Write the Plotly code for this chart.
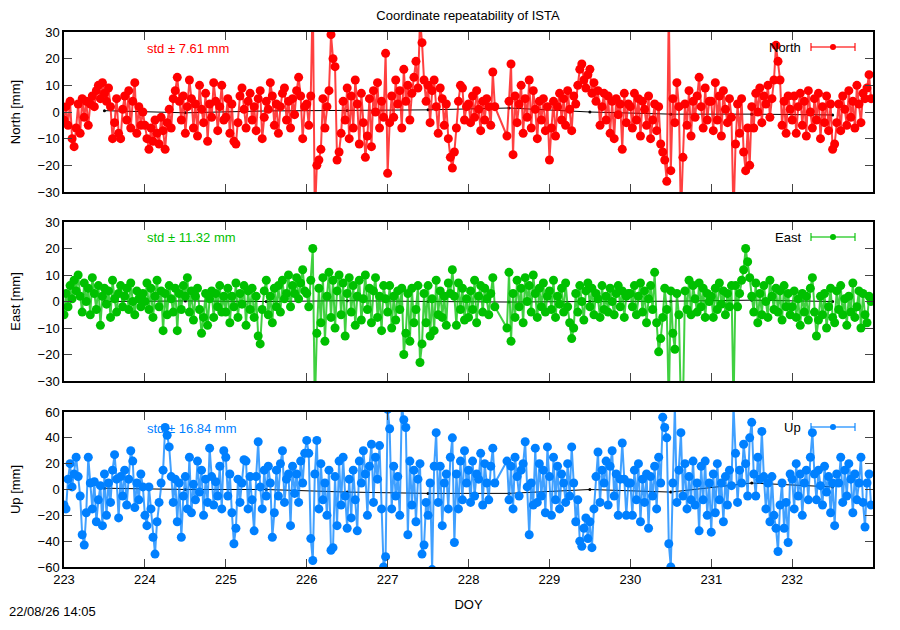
import numpy as np
import plotly.graph_objects as go
from plotly.subplots import make_subplots

# Coordinate repeatability of ISTA, DOY 223-232 (valeurs en mm)
titre = "Coordinate repeatability of ISTA"
horodatage = "22/08/26 14:05"

premier_jour = 223
par_jour = 40  # epoques par jour

north = [
    -3, 2, -5, 4, -10, -13, -6, 3, -8, 5, -2, 4, -5, 3, 6, 2, 8, 10, 5, 11, 7, 4, 9, 2, -10, -4, 5, -8, -10, 1, 6, -3, 8, -6, 4, 11, -8, 2, -5, 0,  # 223
    -5, -10, -14, -6, -11, -3, -8, -12, -2, -7, -14, -4, 1, -6, 5, 8, 13, 4, -3, 6, -8, 2, 12, 5, -6, 3, -9, 10, 1, -4, 7, -11, 3, -2, 11, 4, -7, 2, 10, -3,  # 224
    -2, 5, -8, 3, -11, -12, -4, 6, 9, 1, -6, 4, 7, -3, 2, -7, 5, 8, -10, -2, 4, 1, 11, 6, -5, 3, -8, 2, 7, 9, -3, 4, -6, 5, -1, 8, 13, 6, -10, 2,  # 225
    3, -5, 6, 45, -40, -20, -18, -14, 5, -6, 2, 8, 29, 20, 17, -18, -15, -8, 4, -3, 9, -10, 6, -6, 12, 3, -12, 7, -4, -17, -9, 5, -13, 8, 0, 11, -6, 4, -2, 22,  # 226
    -23, -4, 6, -2, 12, 3, 8, -6, 16, 4, 10, -3, 7, 13, 19, 9, 35, 26, 12, 4, 10, -4, 8, 12, 2, -8, 9, 5, -5, 3, -10, -17, -21, -15, -6, 4, 10, 9, -3, 2,  # 227
    3, -4, 6, -2, 8, 1, -7, 4, -3, 5, 2, -5, 15, 2, None, None, None, None, None, -9, 4, 18, -16, 6, -4, 3, 10, -8, 5, -2, 12, -6, 8, 1, -10, 4, -3, 5, -7, 2,  # 228
    -18, -6, 4, -9, 2, 7, -3, 5, -5, 8, 1, -7, 6, 3, 10, 16, 18, 12, 9, 14, 16, 7, 11, 4, 8, -5, 2, 7, -3, 6, -8, 4, -10, 5, -1, 3, -14, 7, -4, 3,  # 229
    2, -6, 7, -3, 5, -9, 4, 1, -5, 6, -10, -3, 3, -7, 2, -12, -15, -18, -26, 40, -22, 5, -4, 11, 2, -40, -17, 3, -5, 8, -9, 4, -2, 6, 13, 2, -6, 9, -3, 4,  # 230
    4, -7, 11, -3, 6, -9, 8, 1, -4, 5, -2, -40, -12, 3, -8, 5, -15, -22, -6, -20, 2, -6, 7, 0, 9, -4, 6, 3, 10, -2, 5, 12, 25, 19, 12, -5, 4, -8, 6, 1,  # 231
    -3, 6, -8, 2, 7, -5, 4, -9, 8, 0, -6, 5, -3, 7, -10, 2, -4, 6, -7, 3, -14, -12, -4, 3, -7, 6, 1, -5, 8, -2, 4, -6, 10, 3, -4, 7, 5, 9, 14, 5,  # 232
]

east = [
    -5, 3, -2, 6, 1, 8, 4, 10, 2, -4, 7, 0, 5, -5, 9, 3, -3, 6, -9, 2, 5, -1, 4, -6, 8, 1, -4, 3, 6, -2, 2, 5, -3, 7, 0, -5, 4, 1, -2, 3,  # 223
    0, 7, -3, 5, -6, 2, 8, -2, 4, -11, 3, -5, 6, 1, -4, 5, -11, 3, -3, 6, 2, 9, -4, 4, -7, 2, 5, -3, -12, -6, 3, -9, 1, 4, -6, 3, -2, 6, -4, 2,  # 224
    -4, 5, -8, 2, -2, 7, -6, 3, -1, 6, -9, 4, -3, 5, -6, 2, -13, -16, -3, 4, 8, -5, 2, -8, 5, -2, 6, -4, 8, 1, 3, 10, -2, 6, 3, 9, 1, 7, 12, 4,  # 225
    3, -2, 8, 20, -40, -12, 5, -8, 9, -15, 2, 11, -6, 8, -10, 4, 10, -5, 7, -13, 3, 9, -4, 6, -9, 2, 8, -7, 1, 10, -3, 5, -8, 4, 9, -6, 2, -11, 6, 1,  # 226
    -4, 6, -10, 2, -7, 4, -3, 5, -20, -12, 3, -15, 5, -8, -3, 6, -23, -16, 3, -8, 6, -13, 1, -11, 8, -5, 4, -6, 2, -9, 7, 3, 12, 2, -9, 7, -3, 5, -7, 1,  # 227
    -6, 4, -3, 8, -8, 2, 6, -4, 5, 1, -5, 3, 9, -2, None, None, None, None, None, -10, 11, -15, 3, -6, 8, -2, 5, -8, 9, 0, 6, -4, 10, 3, -6, 5, -2, 7, -4, 2,  # 228
    4, -3, 8, -6, 2, -1, 5, -4, 7, -2, -8, -14, -10, 3, -4, 6, 0, -7, 4, 7, -2, 5, -5, 3, 1, -6, 6, -3, 2, -4, 5, 0, -5, 3, 6, -2, 4, -6, 2, 3,  # 229
    3, -2, 6, -5, 2, 7, -4, 4, -8, 1, 6, -3, 11, -8, -19, -14, -6, 5, -3, -40, 4, -12, -18, 3, -5, -40, -40, 4, -3, 8, -5, 6, 1, -4, 7, -2, 5, -6, 3, 0,  # 230
    2, -6, 5, -3, 7, -1, 4, -5, 3, -2, 6, -40, 6, -2, 3, 8, 12, 20, 15, 9, 2, -4, 7, -8, 3, -5, 6, 0, -6, 8, 2, -3, 5, -4, 4, -7, 6, -2, 3, -5,  # 231
    -2, 4, -6, 1, -9, 3, -4, 2, -7, 5, 9, -4, -13, -7, 2, -5, 3, -10, -2, 5, -6, -8, 4, -3, 6, -5, 1, -9, 2, -4, 7, -6, -2, 4, -10, 3, -5, -8, 2, 0,  # 232
]

up = [
    -12, -15, 8, 20, 2, 12, 25, 10, -5, -35, -43, -18, 25, 5, -15, 6, -25, -8, 3, -28, 12, -20, 5, -10, 15, 27, 8, -22, 10, -5, 15, -12, 8, 30, 22, -14, 5, -8, 12, 2,  # 223
    -20, -28, 2, -15, -37, -50, -25, -10, 5, 15, 48, 42, 33, 10, -10, 8, -25, 5, -37, -5, 10, -15, 25, -18, 4, -8, 22, -2, 15, -20, 8, -10, 32, 10, -12, 6, -5, 18, -15, 30,  # 224
    25, -5, 12, -18, -42, -30, 8, -10, 5, 23, 22, -15, 10, -8, -32, 10, 37, 2, -15, 15, -5, 18, 5, -37, -18, 15, -5, 20, 30, -10, 8, 12, -28, 18, -3, 12, -10, 22, 5, 28,  # 225
    38, 28, -38, -55, 12, 38, -15, 20, -8, 5, -20, 15, -47, -45, 10, -28, 22, -12, 25, -5, -30, 8, -22, 15, -8, -32, 22, 5, 30, 12, -20, 18, 35, -10, 25, 8, 34, -15, -60, -52,  # 226
    62, 47, -15, 18, -5, 10, -20, 65, 54, 48, -35, 22, -12, 15, -25, 8, 20, -50, -43, -10, -20, 5, -62, 18, 44, -10, 18, -28, 5, 12, -15, 25, 40, -41, 12, -15, 22, -8, 30, 5,  # 227
    15, -10, 22, -5, 12, 8, 28, -12, 20, 5, -8, 18, 32, 5, None, None, None, None, None, 22, -8, 18, -15, 25, 10, -5, 15, 20, 37, 2, -35, 5, -12, 32, -10, 20, -5, 15, -18, 33,  # 228
    10, -20, 25, -8, 18, -15, 12, 5, -10, 20, -5, 33, 5, -25, -8, -40, -44, -30, -22, -38, -25, -45, -15, 10, 29, -10, 15, 5, 22, -12, 18, 30, -5, 12, -20, 8, 36, 8, -20, 5,  # 229
    5, -20, 15, -8, 20, -25, 8, -10, 12, -30, 10, -5, 18, -15, 25, 5, 56, 48, 40, -42, -60, 5, 65, -10, 15, 44, -5, 20, -15, 10, -8, 22, -12, 5, -32, 18, -8, 22, -20, 5,  # 230
    -33, 12, -18, 20, -8, 5, -25, 10, -12, 15, 3, 65, 28, -10, 15, 5, 35, 20, -5, 40, 52, 12, -5, 25, 8, 45, 10, -15, 5, -25, 10, -20, -30, -48, -12, 5, -30, -10, -41, 12,  # 231
    8, -15, 20, -5, 12, -20, 5, 15, -8, 25, 44, 12, -8, 15, 3, -12, 18, -2, 10, -18, 5, -28, 12, 5, 25, -10, 15, -5, 20, 8, -18, 12, -8, 5, 25, -10, -29, 5, 12, -12,  # 232
]

# solutions journalieres (ligne noire sous les points)
doy_jour = [223.5, 224.5, 225.5, 226.5, 227.5, 228.5, 229.5, 230.5, 231.5, 232.5]
north_jour = [0.5, -0.3, 0.4, 0.6, 0.8, 1.5, 0.0, -0.8, -0.8, -1.1]
east_jour = [0.0, 0.2, 0.0, 0.3, 0.0, -0.2, 0.0, 0.1, 0.5, 0.0]
up_jour = [1, 0, 0, -2, -3, -3, 0, -2, 5, 2]

std_mm = [7.61, 11.32, 16.84]
noms = ["North", "East", "Up"]
couleurs = ["#ff0000", "#00c000", "#0080ff"]
couleurs_ligne = ["rgba(255,0,0,0.75)", "rgba(0,192,0,0.75)", "rgba(0,128,255,0.75)"]
plages = [[-30, 30], [-30, 30], [-60, 60]]
pas = [10, 10, 20]

# la page html ajoute une marge de 8 px autour de la figure
DECALAGE = 8
LARGEUR, HAUTEUR = 900 - 2 * DECALAGE, 630 - 2 * DECALAGE

# cadre en pixels de la page : gauche 64, droite 873, haut 32, bas 567
G, D, H, B = 64, 873, 32, 567
hauts = [32, 222, 412]
bas = [192, 381, 567]


def px(x):
    return (x - G) / (D - G)


def py(y):
    return (B - y) / (B - H)


fig = make_subplots(rows=3, cols=1, shared_xaxes=True)

series = [north, east, up]
jours = [north_jour, east_jour, up_jour]
police = "Liberation Sans, Arial, sans-serif"

for i in range(3):
    r = i + 1
    valeurs = series[i]
    doy = np.round(premier_jour + np.arange(len(valeurs)) / par_jour, 4)

    fig.add_trace(go.Scatter(x=doy_jour, y=jours[i], mode="lines+markers",
                             line=dict(color="black", width=1),
                             marker=dict(color="black", size=3),
                             showlegend=False, hoverinfo="skip"), row=r, col=1)
    fig.add_trace(go.Scatter(x=doy, y=valeurs, mode="lines+markers", connectgaps=True,
                             line=dict(color=couleurs_ligne[i], width=2),
                             marker=dict(color=couleurs[i], size=9, symbol="circle"),
                             name=noms[i], showlegend=False), row=r, col=1)

    fig.update_yaxes(row=r, col=1, range=plages[i], dtick=pas[i], tick0=0, automargin=False,
                     title=dict(text=noms[i] + " [mm]", standoff=14, font=dict(size=13)),
                     domain=[py(bas[i]), py(hauts[i])],
                     ticks="inside", ticklen=8, tickcolor="#444", mirror="allticks",
                     showline=True, linecolor="black", linewidth=1.5,
                     showgrid=False, zeroline=False, tickfont=dict(size=13))
    fig.update_xaxes(row=r, col=1, range=[223, 232.999], dtick=1, tick0=223, automargin=False,
                     ticks="inside", ticklen=8, tickcolor="#444", mirror="allticks",
                     showline=True, linecolor="black", linewidth=1.5,
                     showgrid=False, zeroline=False, tickfont=dict(size=13),
                     showticklabels=(r == 3))

    # texte std
    fig.add_annotation(x=px(145), y=py(hauts[i] + 16), xref="paper", yref="paper",
                       text="std \u00b1 %.2f mm" % std_mm[i], showarrow=False,
                       xanchor="left", yanchor="middle",
                       font=dict(color=couleurs[i], size=13))

    # legende facon gnuplot
    yl = py(hauts[i] + 15)
    fig.add_annotation(x=px(803), y=yl, xref="paper", yref="paper", text=noms[i],
                       showarrow=False, xanchor="right", yanchor="middle",
                       font=dict(color="black", size=13))
    fig.add_shape(type="line", xref="paper", yref="paper", x0=px(811), x1=px(855), y0=yl, y1=yl,
                  line=dict(color=couleurs_ligne[i], width=1.5))
    for xc in (811, 855):
        fig.add_shape(type="line", xref="paper", yref="paper", x0=px(xc), x1=px(xc),
                      y0=py(hauts[i] + 11), y1=py(hauts[i] + 19),
                      line=dict(color=couleurs_ligne[i], width=1.5))
    fig.add_shape(type="circle", xref="paper", yref="paper",
                  x0=px(830), x1=px(836), y0=py(hauts[i] + 18), y1=py(hauts[i] + 12),
                  fillcolor=couleurs[i], line=dict(color=couleurs[i], width=0))

fig.update_xaxes(row=3, col=1, title=dict(text="DOY", standoff=14, font=dict(size=13)))

fig.add_annotation(x=0, y=0, xref="paper", yref="paper", text=horodatage,
                   showarrow=False, xanchor="left", yanchor="bottom",
                   xshift=-57, yshift=-54, font=dict(size=13, color="black"))

fig.update_layout(
    width=LARGEUR, height=HAUTEUR,
    margin=dict(l=G - DECALAGE, r=LARGEUR - (D - DECALAGE), t=H - DECALAGE,
                b=HAUTEUR - (B - DECALAGE), autoexpand=False),
    title=dict(text=titre, x=px(468), xref="paper", y=1, yref="container", yanchor="top",
               pad=dict(t=3), font=dict(size=13, color="black")),
    font=dict(family=police, color="black"),
    plot_bgcolor="white", paper_bgcolor="white",
)

fig.write_html("out.html")
print("out.html ok")
